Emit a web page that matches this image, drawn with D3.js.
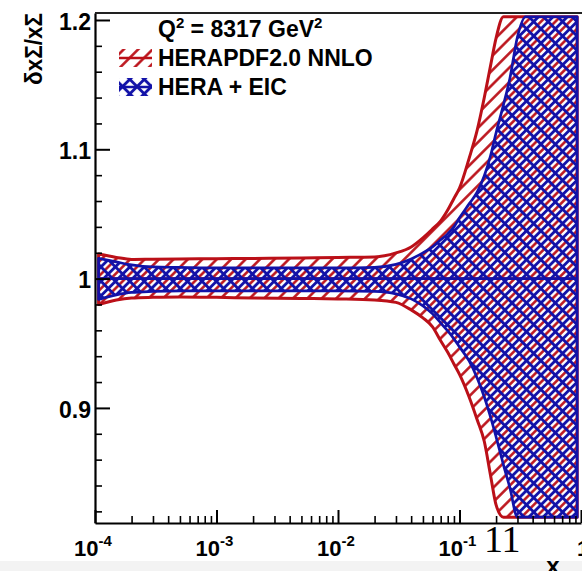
<!DOCTYPE html>
<html lang="en">
  <head>
    <meta charset="utf-8">
    <title>dxSigma ratio</title>
    <script src="https://d3js.org/d3.v7.min.js"></script>
    <style>
      body { margin: 0; background: #fff; }
      text { font-family: "Liberation Sans", Arial, sans-serif; font-weight: bold; }
    </style>
  </head>

  <body>

    <script>

// values

  var xs = [1.07e-4, 1.5e-4, 2e-4, 3e-4, 5e-4, 1e-3, 2e-3, 5e-3, 1e-2, 2e-2, 3e-2, 4e-2,
            5e-2, 6e-2, 7e-2, 8e-2, 9e-2, 0.1, 0.12, 0.14, 0.16, 0.18, 0.2, 0.23,
            0.26, 0.3, 0.35, 0.4, 0.5, 0.6, 0.75, 0.93];

  var redHi = [1.019, 1.0164, 1.0148, 1.015, 1.0152, 1.0154, 1.0156, 1.016, 1.0164, 1.0168, 1.0199, 1.0245,
               1.0315, 1.0384, 1.0446, 1.053, 1.062, 1.070, 1.093, 1.115, 1.140, 1.1645, 1.186, 1.208,
               1.235, 1.27, 1.31, 1.35, 1.42, 1.48, 1.56, 1.65];
  var redLo = [0.980, 0.9835, 0.985, 0.9855, 0.9858, 0.9855, 0.985, 0.9847, 0.9843, 0.9835, 0.9816, 0.9758,
               0.9696, 0.9627, 0.9519, 0.943, 0.934, 0.926, 0.9085, 0.8907, 0.874, 0.848, 0.825, 0.794,
               0.76, 0.72, 0.68, 0.64, 0.58, 0.52, 0.45, 0.38];
  var blueHi = [1.0156, 1.0129, 1.0106, 1.009, 1.0087, 1.0083, 1.0083, 1.0083, 1.0083, 1.0087, 1.011, 1.0152,
                1.0199, 1.0245, 1.030, 1.0346, 1.040, 1.047, 1.0578, 1.067, 1.0795, 1.095, 1.1127, 1.1344,
                1.155, 1.187, 1.23, 1.28, 1.36, 1.43, 1.52, 1.6];
  var blueLo = [0.9839, 0.9874, 0.9893, 0.9901, 0.9905, 0.9905, 0.9905, 0.9905, 0.9905, 0.9901, 0.9882, 0.9843,
                0.9789, 0.9727, 0.9657, 0.9595, 0.9534, 0.9472, 0.9363, 0.923, 0.9084, 0.893, 0.8776, 0.856,
                0.8381, 0.812, 0.78, 0.75, 0.69, 0.63, 0.56, 0.48];

  var yMajor = [0.9, 1.0, 1.1, 1.2];
  var yLabels = ["0.9", "1", "1.1", "1.2"];
  var xMajor = [1e-4, 1e-3, 1e-2, 1e-1, 1];
  var xExp = ["-4", "-3", "-2", "-1", null];
  var legendNames = ["HERAPDF2.0 NNLO", "HERA + EIC"];

  var red = "#bb1018", blue = "#1212a8";

// svg + scales

  var svg = d3.select("body")
    .append("svg")
      .attr("width", 582)
      .attr("height", 571);

  svg.append("rect").attr("x", 0).attr("y", 561).attr("width", 582).attr("height", 10)
      .attr("fill", "#f3f3f3");

  var x = d3.scaleLog().domain([1e-4, 1]).range([95, 581]);
  var y = d3.scaleLinear().domain([0.811, 1.2054]).range([523, 13]);
  var yc = v => y(Math.max(0.8155, Math.min(1.2025, v)));

// hatch patterns

  var defs = svg.append("defs");
  var step = 10.2;

  var pr = defs.append("pattern").attr("id", "hRed")
      .attr("patternUnits", "userSpaceOnUse")
      .attr("width", step).attr("height", step)
      .attr("patternTransform", "rotate(45) translate(" + step / 2 + ",0)");
  pr.append("line").attr("x1", step / 2).attr("y1", -1).attr("x2", step / 2).attr("y2", step + 1)
      .attr("stroke", red).attr("stroke-width", 2.5);

  var pb = defs.append("pattern").attr("id", "hBlue")
      .attr("patternUnits", "userSpaceOnUse")
      .attr("width", step).attr("height", step)
      .attr("patternTransform", "rotate(45)");
  pb.append("line").attr("x1", step / 2).attr("y1", -1).attr("x2", step / 2).attr("y2", step + 1)
      .attr("stroke", blue).attr("stroke-width", 2.9);
  pb.append("line").attr("x1", -1).attr("y1", step / 2).attr("x2", step + 1).attr("y2", step / 2)
      .attr("stroke", blue).attr("stroke-width", 2.9);

// bands

  function band(hi, lo) {
    return d3.area()
        .curve(d3.curveMonotoneX)
        .x((d, i) => x(d))
        .y0((d, i) => yc(lo[i]))
        .y1((d, i) => yc(hi[i]))(xs);
  }

  svg.append("path").attr("d", band(redHi, redLo))
      .attr("fill", "url(#hRed)")
      .attr("stroke", red).attr("stroke-width", 3).attr("stroke-linejoin", "round");

  svg.append("line")
      .attr("x1", x(xs[0])).attr("x2", x(xs[xs.length - 1]))
      .attr("y1", y(1)).attr("y2", y(1))
      .attr("stroke", red).attr("stroke-width", 2.5);

  svg.append("path").attr("d", band(blueHi, blueLo))
      .attr("fill", "url(#hBlue)")
      .attr("stroke", blue).attr("stroke-width", 2.7).attr("stroke-linejoin", "round");

  svg.append("line")
      .attr("x1", x(xs[0])).attr("x2", x(xs[xs.length - 1]))
      .attr("y1", y(1)).attr("y2", y(1))
      .attr("stroke", blue).attr("stroke-width", 2.6);

// axes

  var yMinor = d3.range(0.82, 1.201, 0.02).filter(v => yMajor.every(m => Math.abs(m - v) > 1e-6));

  svg.append("g").attr("transform", "translate(95,0)")
      .call(d3.axisLeft(y).tickValues(yMinor).tickSize(-7).tickSizeOuter(0).tickFormat(""))
      .call(g => g.select(".domain").remove())
      .selectAll("line").attr("stroke-width", 1.6);

  var yAx = svg.append("g").attr("transform", "translate(95,0)")
      .call(d3.axisLeft(y).tickValues(yMajor).tickSize(-15).tickSizeOuter(0).tickPadding(4)
        .tickFormat((d, i) => yLabels[i]));
  yAx.select(".domain").attr("stroke-width", 2.2);
  yAx.selectAll("line").attr("stroke-width", 2);
  yAx.selectAll("text").attr("font-size", 23).attr("font-family", null).attr("dy", "0.4em");

  var xMinor = [];
  for (var e = -4; e < 0; e++) for (var k = 2; k < 10; k++) xMinor.push(k * Math.pow(10, e));

  svg.append("g").attr("transform", "translate(0,523)")
      .call(d3.axisBottom(x).tickValues(xMinor).tickSize(-7).tickSizeOuter(0).tickFormat(""))
      .call(g => g.select(".domain").remove())
      .selectAll("line").attr("stroke-width", 1.6);

  var xAx = svg.append("g").attr("transform", "translate(0,523)")
      .call(d3.axisBottom(x).tickValues(xMajor).tickSize(-13).tickSizeOuter(0).tickFormat(""));
  xAx.select(".domain").attr("stroke-width", 2.2);
  xAx.selectAll("line").attr("stroke-width", 2);

  xMajor.forEach(function (v, i) {
    var t = svg.append("text")
        .attr("x", x(v)).attr("y", 556)
        .attr("text-anchor", "middle")
        .attr("font-size", 22);
    if (xExp[i] === null) {
      t.attr("x", x(v) + 2).text("1");
    } else {
      t.attr("x", x(v) - 2);
      t.append("tspan").text("10");
      t.append("tspan").attr("font-size", 15).attr("dy", -10).text(xExp[i]);
    }
  });

  // frame top
  svg.append("line").attr("x1", 95).attr("x2", 582).attr("y1", 13).attr("y2", 13)
      .attr("stroke", "#222").attr("stroke-width", 2);

// titles

  svg.append("text")
      .attr("transform", "translate(42,13) rotate(-90)")
      .attr("text-anchor", "end")
      .attr("font-size", 23)
      .attr("textLength", 72).attr("lengthAdjust", "spacingAndGlyphs")
      .text("δxΣ/xΣ");

  svg.append("text")
      .attr("x", 553).attr("y", 574)
      .attr("text-anchor", "middle")
      .attr("font-size", 24)
      .text("x");

// legend

  var q = svg.append("text").attr("x", 158).attr("y", 37).attr("font-size", 23);
  q.append("tspan").text("Q");
  q.append("tspan").attr("font-size", 15).attr("dy", -9).text("2");
  q.append("tspan").attr("dy", 9).text(" = 8317 GeV");
  q.append("tspan").attr("font-size", 15).attr("dy", -9).text("2");

  var fills = ["url(#hRed)", "url(#hBlue)"];
  var cols = [red, blue];
  var ly = [58, 87];

  legendNames.forEach(function (name, i) {
    svg.append("rect")
        .attr("x", 119).attr("y", ly[i] - 9).attr("width", 33).attr("height", 18)
        .attr("fill", fills[i]);
    svg.append("line")
        .attr("x1", 119).attr("x2", 152).attr("y1", ly[i]).attr("y2", ly[i])
        .attr("stroke", cols[i]).attr("stroke-width", 2.5);
    svg.append("text")
        .attr("x", 158).attr("y", ly[i] + 8)
        .attr("font-size", 23)
        .text(name);
  });

// stray page number overlay

  svg.append("text")
      .attr("x", 484).attr("y", 552)
      .attr("font-size", 38)
      .style("font-weight", "normal")
      .style("font-family", "'Liberation Serif', 'Times New Roman', serif")
      .text("11");

    </script>

  </body>

</html>
